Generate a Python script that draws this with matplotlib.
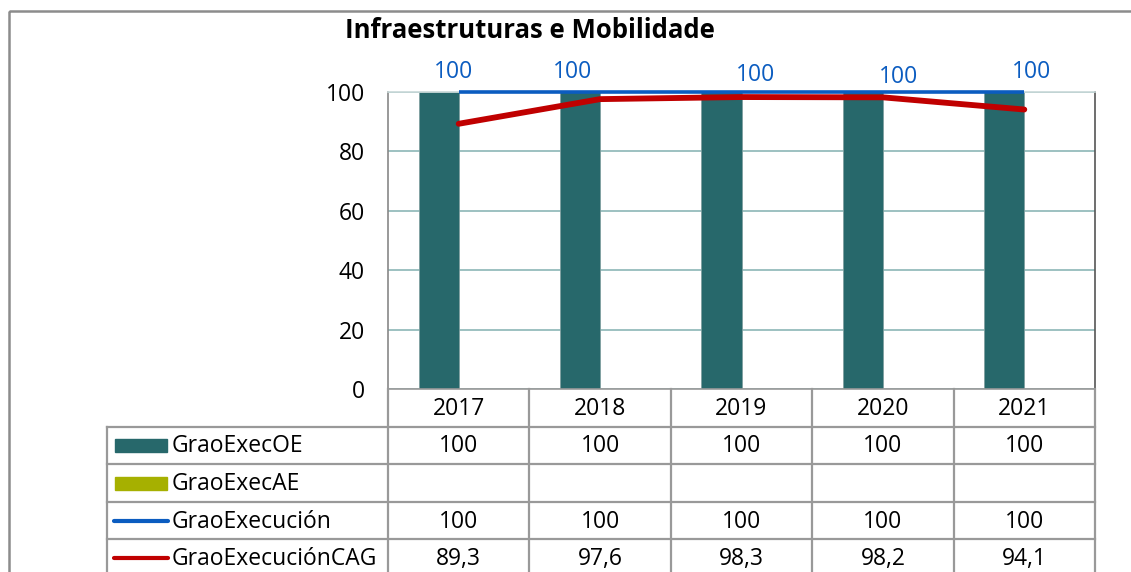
import matplotlib
matplotlib.use("Agg")
import numpy as np
from matplotlib import pyplot as plt
from matplotlib.patches import Rectangle
from matplotlib.lines import Line2D

plt.rcParams['font.family'] = ['Open Sans', 'DejaVu Sans']

# data
years = ['2017', '2018', '2019', '2020', '2021']
grao_exec_oe = [100, 100, 100, 100, 100]
grao_exec_ae = [np.nan, np.nan, np.nan, np.nan, np.nan]
grao_execucion = [100, 100, 100, 100, 100]
grao_execucion_cag = [89.3, 97.6, 98.3, 98.2, 94.1]
series_names = ['GraoExecOE', 'GraoExecAE', 'GraoExecución', 'GraoExecuciónCAG']

c_oe = '#27686b'
c_ae = '#a6b000'
c_blue = '#0b5cc0'
c_red = '#c00000'
c_grid = '#9dc1c1'
c_tab = '#999999'
fs = 16.5

W, H = 1131, 572
fig = plt.figure(figsize=(W / 100, H / 100), dpi=100)

# pixel layout of the plot area
px_l, px_r, px_t, px_b = 388, 1095, 92, 389
ax = fig.add_axes([px_l / W, 1 - px_b / H, (px_r - px_l) / W, (px_b - px_t) / H])

n = len(years)
x = np.arange(n) + 0.5
bw = 0.283
ax.bar(x - bw / 2, grao_exec_oe, bw, color=c_oe, edgecolor='#7f9fa0', linewidth=0.6, zorder=2)
ax.bar(x + bw / 2, np.nan_to_num(grao_exec_ae), bw, color=c_ae, zorder=2)
ax.plot(x, grao_execucion, color=c_blue, lw=2.6, zorder=3, clip_on=False, solid_capstyle='butt')
ax.plot(x, grao_execucion_cag, color=c_red, lw=4.2, zorder=4, clip_on=False, solid_capstyle='round')

# data labels of GraoExecución (Excel places them unevenly)
lab_off = [(-5, 20), (-28, 20), (14, 17), (16, 15), (7, 20)]
for xi, v, (dx, dy) in zip(x, grao_execucion, lab_off):
    ax.annotate(f'{v:g}', (xi, v), xytext=(dx * 0.72, dy * 0.72), textcoords='offset points',
                ha='center', va='center', color=c_blue, fontsize=fs)

ax.set_xlim(0, n)
ax.set_ylim(0, 100)
ax.set_yticks(range(0, 101, 20))
ax.set_xticks([])
ax.tick_params(axis='y', length=0, pad=16.5, labelsize=fs)
ax.yaxis.grid(True, color=c_grid, lw=1.4, zorder=0)
ax.set_axisbelow(True)
ax.spines['top'].set_color('#c8d8d8')
ax.spines['left'].set_color('#888888')
ax.spines['right'].set_color('#555555')
ax.spines['bottom'].set_color(c_tab)
for s in ax.spines.values():
    s.set_linewidth(1.2)

# overlay in pixel coordinates for frame, title and data table
ov = fig.add_axes([0, 0, 1, 1], zorder=-1)
ov.set_xlim(0, W)
ov.set_ylim(H, 0)
ov.axis('off')
ov2 = fig.add_axes([0, 0, 1, 1], zorder=5)
ov2.set_xlim(0, W)
ov2.set_ylim(H, 0)
ov2.axis('off')

# outer chart frame
ov.add_patch(Rectangle((8.5, 10.5), W + 20, H + 20, fill=False, ec='#8c8c8c', lw=1.8))

ov2.text(530, 31, 'Infraestruturas e Mobilidade', ha='center', va='center',
         fontsize=18.5, fontweight='bold')

# table
tab_l = 107
col_w = (px_r - px_l) / n
cols = [px_l + i * col_w for i in range(n + 1)]
rows = [389, 427, 464, 502, 539, 577]
lw_t = 1.6
for c in cols:
    ov2.add_line(Line2D([c, c], [rows[0], H + 5], color=c_tab, lw=lw_t))
ov2.add_line(Line2D([tab_l, tab_l], [rows[1], H + 5], color=c_tab, lw=lw_t))
for r in rows[1:-1]:
    ov2.add_line(Line2D([tab_l, px_r], [r, r], color=c_tab, lw=lw_t))

for i, yr in enumerate(years):
    ov2.text(cols[i] + col_w / 2, (rows[0] + rows[1]) / 2 + 1, yr, ha='center', va='center', fontsize=fs)

table_vals = [grao_exec_oe, grao_exec_ae, grao_execucion, grao_execucion_cag]
for j, vals in enumerate(table_vals):
    yc = (rows[j + 1] + rows[j + 2]) / 2 + 1
    for i, v in enumerate(vals):
        if np.isnan(v):
            continue
        ov2.text(cols[i] + col_w / 2, yc, f'{v:g}'.replace('.', ','), ha='center', va='center', fontsize=fs)
    ov2.text(172, yc, series_names[j], ha='left', va='center', fontsize=fs)

# legend keys
key_cols = [c_oe, c_ae]
for j in range(2):
    yc = (rows[j + 1] + rows[j + 2]) / 2
    ov2.add_patch(Rectangle((115, yc - 6.5), 52, 13, color=key_cols[j]))
for j, (c, w) in enumerate([(c_blue, 3.0), (c_red, 3.0)]):
    yc = (rows[j + 3] + rows[j + 4]) / 2
    ov2.add_line(Line2D([114, 168], [yc, yc], color=c, lw=w, solid_capstyle='round'))

fig.savefig('out.png', dpi=100)
